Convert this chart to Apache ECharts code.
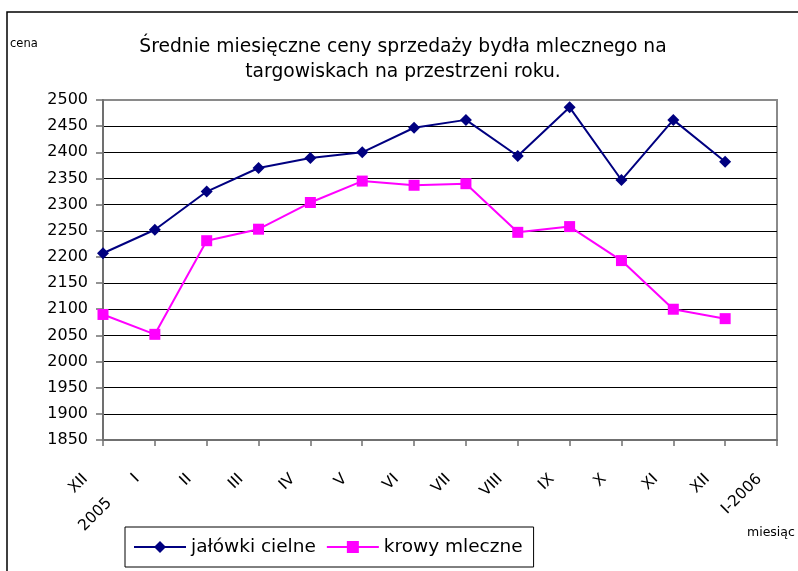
<!DOCTYPE html>
<html>
<head>
<meta charset="utf-8">
<script src="https://cdn.jsdelivr.net/npm/echarts@6/dist/echarts.min.js"></script>
<style>
  html, body { margin: 0; padding: 0; background: #fff; }
  #chart { width: 798px; height: 571px; }
</style>
</head>
<body>
<div id="chart"></div>
<script>
const FONT = '"DejaVu Sans", "Liberation Sans", sans-serif';

const months = ["XII\n2005", "I", "II", "III", "IV", "V", "VI", "VII", "VIII", "IX", "X", "XI", "XII", "I-2006"];
const jalowki = [2207, 2252, 2325, 2370, 2389, 2400, 2447, 2462, 2393, 2486, 2347, 2462, 2382];
const krowy = [2090, 2052, 2231, 2253, 2304, 2345, 2337, 2340, 2247, 2258, 2193, 2100, 2082];

const chart = echarts.init(document.getElementById("chart"), null, { renderer: "canvas" });

chart.setOption({
  backgroundColor: "#fff",
  animation: false,
  title: {
    text: "Średnie miesięczne ceny sprzedaży bydła mlecznego na\ntargowiskach na przestrzeni roku.",
    left: 398,
    textAlign: "center",
    top: 30,
    textStyle: { fontFamily: FONT, fontSize: 18.7, fontWeight: "normal", color: "#000", lineHeight: 25 },
  },
  graphic: [
    // outer chart frame, runs off the right and bottom edge
    { type: "rect", shape: { x: 7, y: 12, width: 900, height: 700 }, style: { fill: null, stroke: "#000", lineWidth: 1.5 }, silent: true },
    { type: "text", left: 10, top: 38, style: { text: "cena", font: '11.5px "DejaVu Sans"', fill: "#000" } },
    { type: "text", left: 747, top: 526, style: { text: "miesiąc", font: '12.5px "DejaVu Sans"', fill: "#000" } },
  ],
  grid: {
    left: 103, right: 21, top: 100, bottom: 131,
    show: true, borderColor: "#8a8a8a", borderWidth: 2, backgroundColor: "transparent",
  },
  legend: {
    left: 125,
    top: 527,
    padding: [9, 11, 9, 8],
    itemGap: 10,
    itemWidth: 52,
    itemHeight: 15,
    borderColor: "#000",
    borderWidth: 1,
    textStyle: { fontFamily: FONT, fontSize: 18.5, color: "#000", lineHeight: 22 },
    data: ["jałówki cielne", "krowy mleczne"],
  },
  xAxis: {
    type: "category",
    data: months,
    boundaryGap: false,
    axisLine: { lineStyle: { color: "#707070", width: 2 } },
    axisTick: { alignWithLabel: true, length: 6, lineStyle: { color: "#707070", width: 1.5 } },
    axisLabel: {
      interval: 0,
      rotate: 45,
      margin: 19,
      padding: [0, 25, 0, 0],
      lineHeight: 17,
      color: "#000",
      fontFamily: FONT,
      fontSize: 15.5,
      // two-line first label: keep "XII" on the normal spot, "2005" hangs lower
      formatter: (v) => (v.includes("\n") ? "\n\n" + v.replace("\n", "\n\n") : v),
    },
    splitLine: { show: false },
  },
  yAxis: {
    type: "value",
    min: 1850,
    max: 2500,
    interval: 50,
    axisLine: { show: true, lineStyle: { color: "#707070", width: 2 } },
    axisTick: { show: true, length: 7, lineStyle: { color: "#707070", width: 1.5 } },
    axisLabel: { color: "#000", fontFamily: FONT, fontSize: 16, margin: 15, formatter: (v) => String(v) },
    splitLine: { show: true, showMaxLine: false, lineStyle: { color: "#000", width: 1 } },
  },
  series: [
    {
      name: "jałówki cielne",
      type: "line",
      data: jalowki,
      symbol: "diamond",
      symbolSize: 12,
      color: "#000080",
      lineStyle: { color: "#000080", width: 2 },
      itemStyle: { color: "#000080" },
    },
    {
      name: "krowy mleczne",
      type: "line",
      data: krowy,
      symbol: "rect",
      symbolSize: 11,
      color: "#FF00FF",
      lineStyle: { color: "#FF00FF", width: 2 },
      itemStyle: { color: "#FF00FF" },
    },
  ],
});
</script>
</body>
</html>
